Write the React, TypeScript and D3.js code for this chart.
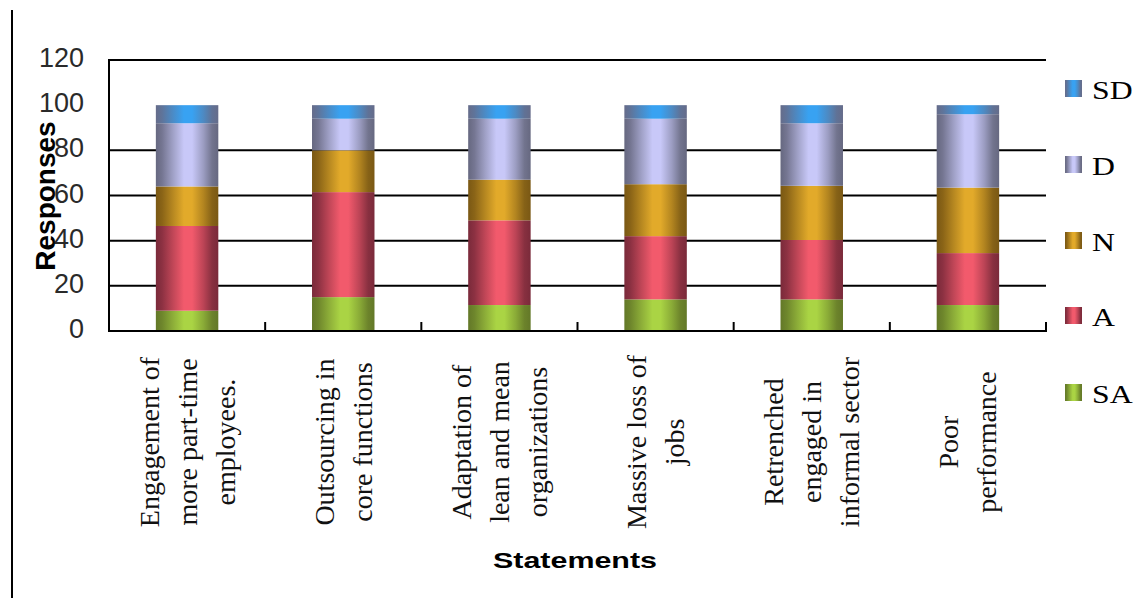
import React from "react";
import * as d3 from "d3";

const categories = [
  "Engagement of more part-time employees.",
  "Outsourcing in core functions",
  "Adaptation of lean and mean organizations",
  "Massive loss of jobs",
  "Retrenched engaged in informal sector",
  "Poor performance",
];
const categoryLines = [
  ["Engagement of", "more part-time", "employees."],
  ["Outsourcing in", "core functions"],
  ["Adaptation of", "lean and mean", "organizations"],
  ["Massive loss of", "jobs"],
  ["Retrenched", "engaged in", "informal sector"],
  ["Poor", "performance"],
];
const seriesKeys = ["SA", "A", "N", "D", "SD"];
const SA = [9, 15, 11.5, 14, 14, 11.5];
const A = [37.5, 46.5, 37.5, 28, 26.3, 23];
const N = [17.5, 18.5, 18, 23, 24, 29];
const D = [28, 14, 27, 29, 27.7, 32.5];
const SD = [8, 6, 6, 6, 8, 4];
const yTicks = [0, 20, 40, 60, 80, 100, 120];
const gridValues = [20, 40, 60, 80];

const seriesColors: Record<string, [string, string]> = {
  SA: ["#637828", "#aad444"],
  A: ["#7a2a3a", "#f25a6c"],
  N: ["#7a5814", "#e2aa2a"],
  D: ["#666880", "#c8c8f8"],
  SD: ["#666c8a", "#38a2f2"],
};

export default function App() {
  const W = 1146;
  const H = 598;
  const left = 109;
  const right = 1046;
  const top = 60;
  const bottom = 331;

  const rows = categories.map((c, i) => ({
    cat: c,
    SA: SA[i],
    A: A[i],
    N: N[i],
    D: D[i],
    SD: SD[i],
  }));
  const stacked = d3.stack<any>().keys(seriesKeys)(rows);

  const x = d3
    .scaleBand<string>()
    .domain(categories)
    .range([left, right])
    .paddingInner(0.6)
    .paddingOuter(0.3);
  const y = d3.scaleLinear().domain([0, 120]).range([bottom, top]);
  const step = x.step();
  const boundaries = categories.map((_, i) => left + (i + 1) * step);

  const legendY = [80, 156, 232, 307, 384];
  const legendOrder = ["SD", "D", "N", "A", "SA"];

  return (
    <svg
      width={W}
      height={H}
      style={{ position: "absolute", left: 0, top: 0, background: "#fff" }}
      fontFamily="'Liberation Sans', Arial, sans-serif"
    >
      <defs>
        {seriesKeys.map((k) => {
          const [dark, light] = seriesColors[k];
          const mix = d3.interpolateRgb(dark, light);
          return (
            <linearGradient id={`g-${k}`} key={k} x1="0" x2="1" y1="0" y2="0">
              <stop offset="0" stopColor={dark} />
              <stop offset="0.1" stopColor={mix(0.15)} />
              <stop offset="0.28" stopColor={mix(0.6)} />
              <stop offset="0.45" stopColor={light} />
              <stop offset="0.58" stopColor={light} />
              <stop offset="0.76" stopColor={mix(0.55)} />
              <stop offset="0.9" stopColor={mix(0.12)} />
              <stop offset="1" stopColor={dark} />
            </linearGradient>
          );
        })}
      </defs>

      {/* outer left line */}
      <line x1={12} x2={12} y1={10} y2={H} stroke="#000" strokeWidth={2} />

      {/* gridlines */}
      {gridValues.map((v) => (
        <line key={v} x1={left} x2={right} y1={y(v)} y2={y(v)} stroke="#000" strokeWidth={2} />
      ))}

      {/* bars */}
      {stacked.map((s) => (
        <g key={s.key} fill={`url(#g-${s.key})`}>
          {s.map((d, i) => (
            <rect
              key={i}
              x={x(categories[i])}
              width={x.bandwidth()}
              y={y(d[1])}
              height={y(d[0]) - y(d[1])}
            />
          ))}
        </g>
      ))}

      {/* frame */}
      <line x1={left} x2={right} y1={top} y2={top} stroke="#000" strokeWidth={2} />
      <line x1={left} x2={left} y1={top - 1} y2={bottom + 1} stroke="#000" strokeWidth={2} />
      <line x1={left} x2={right + 1} y1={bottom} y2={bottom} stroke="#000" strokeWidth={2} />
      {boundaries.map((b, i) => (
        <line key={i} x1={b} x2={b} y1={bottom - 9} y2={bottom} stroke="#000" strokeWidth={2} />
      ))}

      {/* y tick labels */}
      {yTicks.map((v) => (
        <text
          key={v}
          x={84}
          y={y(v) - 2}
          textAnchor="end"
          dominantBaseline="central"
          fontSize={27}
          fill="#2a2a2a"
        >
          {v}
        </text>
      ))}

      {/* y title */}
      <text
        transform={`translate(55,196) rotate(-90)`}
        textAnchor="middle"
        fontSize={28}
        fontWeight="bold"
        fill="#000"
      >
        Responses
      </text>

      {/* category labels */}
      {categoryLines.map((lines, i) => {
        const cx = (x(categories[i]) as number) + x.bandwidth() / 2;
        const n = lines.length;
        return lines.map((ln, j) => (
          <text
            key={`${i}-${j}`}
            transform={`translate(${cx + (j - (n - 1) / 2) * 38},442) rotate(-90)`}
            textAnchor="middle"
            dominantBaseline="central"
            fontSize={28}
            fontFamily="'Liberation Serif', 'Times New Roman', serif"
            fill="#111"
          >
            {ln}
          </text>
        ));
      })}

      {/* x title */}
      <text
        x={575}
        y={568}
        textAnchor="middle"
        fontSize={22}
        fontWeight="bold"
        textLength={164}
        lengthAdjust="spacingAndGlyphs"
        fill="#000"
      >
        Statements
      </text>

      {/* legend */}
      {legendOrder.map((k, i) => (
        <g key={k}>
          <rect x={1065} y={legendY[i]} width={17} height={17} fill={`url(#g-${k})`} />
          <text
            transform={`translate(1092,${legendY[i] + 19}) scale(1.27,1)`}
            fontSize={25}
            fontFamily="'Liberation Serif', 'Times New Roman', serif"
            fill="#000"
          >
            {k}
          </text>
        </g>
      ))}
    </svg>
  );
}
